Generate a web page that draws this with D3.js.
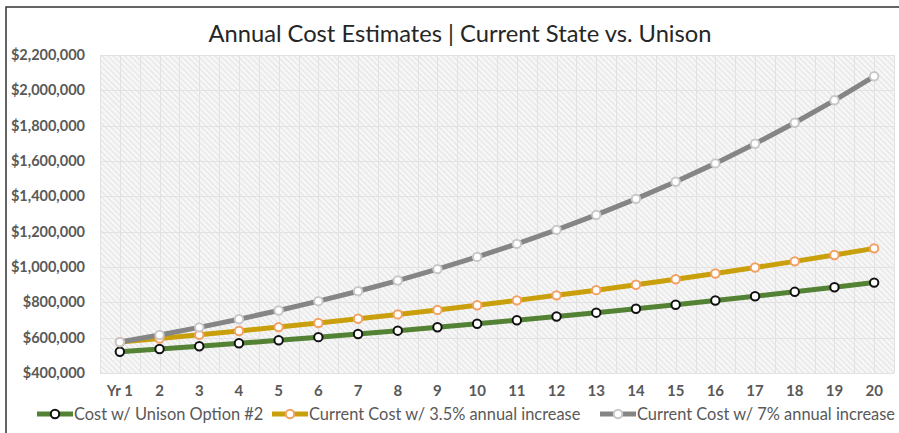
<!DOCTYPE html>
<html>
<head>
<meta charset="utf-8">
<script src="https://cdn.jsdelivr.net/npm/d3@7"></script>
<style>
  body { margin: 0; background: #fff; }
  svg { display: block; font-family: Lato, "Open Sans", sans-serif; }
</style>
</head>
<body>
<div id="chart"></div>
<script>
// categories and series
var years = ["Yr 1", "2", "3", "4", "5", "6", "7", "8", "9", "10",
  "11", "12", "13", "14", "15", "16", "17", "18", "19", "20"];
var unisonCost = [520000, 535600, 551700, 568200, 585300, 602800, 620900, 639500, 658700, 678500,
  698800, 719800, 741400, 763600, 786500, 810100, 834400, 859500, 885300, 911800];
var cost35 = [575000, 595100, 616000, 637500, 659800, 682900, 706800, 731600, 757200, 783700,
  811100, 839500, 868900, 899300, 930800, 963400, 997100, 1032000, 1068100, 1105500];
var cost7 = [575000, 615300, 658300, 704400, 753700, 806500, 862900, 923300, 988000, 1057100,
  1131100, 1210300, 1295000, 1385700, 1482700, 1586500, 1697500, 1816300, 1943500, 2079500];
var yTicks = [400000, 600000, 800000, 1000000, 1200000, 1400000, 1600000, 1800000, 2000000, 2200000];
var seriesNames = ["Cost w/ Unison Option #2", "Current Cost w/ 3.5% annual increase", "Current Cost w/ 7% annual increase"];

var width = 899, height = 433;
var margin = { left: 100, right: 5, top: 55, bottom: 60 };

var series = [
  { name: seriesNames[0], values: unisonCost, line: "#548235", mStroke: "#111", legendX: 37 },
  { name: seriesNames[1], values: cost35, line: "#c9a00c", mStroke: "#f4a062", legendX: 272 },
  { name: seriesNames[2], values: cost7, line: "#858585", mStroke: "#c8c8c8", legendX: 600 }
];

var svg = d3.select("#chart").append("svg")
  .attr("width", width)
  .attr("height", height);

var defs = svg.append("defs");
var pat = defs.append("pattern")
  .attr("id", "hatch")
  .attr("width", 4).attr("height", 4)
  .attr("patternUnits", "userSpaceOnUse")
  .attr("patternTransform", "rotate(-45)");
pat.append("rect").attr("width", 4).attr("height", 4).attr("fill", "#f6f6f6");
pat.append("line")
  .attr("x1", 0).attr("y1", 0).attr("x2", 0).attr("y2", 4)
  .attr("stroke", "#d6d6d6").attr("stroke-width", 1.2);

// frame of the chart object
svg.append("rect")
  .attr("x", 6).attr("y", 7)
  .attr("width", 910).attr("height", 440)
  .attr("fill", "none")
  .attr("stroke", "#333")
  .attr("stroke-width", 1.5);

var x = d3.scaleBand()
  .domain(years)
  .range([margin.left, width - margin.right]);

var y = d3.scaleLinear()
  .domain([400000, 2200000])
  .range([373, margin.top]);

// plot background
svg.append("rect")
  .attr("x", x.range()[0]).attr("y", y(2200000))
  .attr("width", x.range()[1] - x.range()[0])
  .attr("height", y(400000) - y(2200000))
  .attr("fill", "url(#hatch)");

// gridlines: horizontal at ticks, vertical at band edges and centres
var grid = svg.append("g").attr("stroke", "#e2e2e2").attr("stroke-width", 1);
grid.selectAll(".hg").data(yTicks).enter().append("line")
  .attr("x1", x.range()[0]).attr("x2", x.range()[1])
  .attr("y1", function(d) { return Math.round(y(d)) + 0.5; })
  .attr("y2", function(d) { return Math.round(y(d)) + 0.5; });
var vpos = [];
years.forEach(function(d) {
  vpos.push(x(d));
  vpos.push(x(d) + x.bandwidth() / 2);
});
vpos.push(x.range()[1]);
grid.selectAll(".vg").data(vpos).enter().append("line")
  .attr("x1", function(d) { return Math.round(d) + 0.5; })
  .attr("x2", function(d) { return Math.round(d) + 0.5; })
  .attr("y1", y(2200000)).attr("y2", y(400000));

// axes
var yAxis = svg.append("g")
  .attr("transform", "translate(" + (margin.left - 12) + ",0)")
  .call(d3.axisLeft(y).tickValues(yTicks).tickFormat(d3.format("$,")).tickSize(0));
yAxis.select(".domain").remove();
yAxis.selectAll("text")
  .attr("fill", "#595959")
  .style("font-size", "14.5px")
  .style("font-weight", "bold")
  .style("font-family", "Lato, sans-serif");

var xAxis = svg.append("g")
  .attr("transform", "translate(0," + (y(400000) + 9) + ")")
  .call(d3.axisBottom(x).tickSize(0));
xAxis.select(".domain").remove();
xAxis.selectAll("text")
  .attr("fill", "#595959")
  .style("font-size", "15px")
  .style("font-weight", "bold")
  .style("font-family", "Lato, sans-serif");

// lines and markers
var line = d3.line()
  .x(function(d, i) { return x(years[i]) + x.bandwidth() / 2; })
  .y(function(d) { return y(d); });

series.forEach(function(s) {
  svg.append("path")
    .datum(s.values)
    .attr("d", line)
    .attr("fill", "none")
    .attr("stroke", s.line)
    .attr("stroke-width", 5)
    .attr("stroke-linejoin", "round");
});
series.forEach(function(s) {
  svg.append("g").selectAll("circle")
    .data(s.values)
    .enter().append("circle")
    .attr("cx", function(d, i) { return x(years[i]) + x.bandwidth() / 2; })
    .attr("cy", function(d) { return y(d); })
    .attr("r", 4.2)
    .attr("fill", "#fff")
    .attr("stroke", s.mStroke)
    .attr("stroke-width", 2);
});

// title
svg.append("text")
  .attr("x", 460).attr("y", 42)
  .attr("text-anchor", "middle")
  .attr("fill", "#262626")
  .style("font-size", "23.7px")
  .text("Annual Cost Estimates | Current State vs. Unison");

// legend
var lg = svg.append("g").attr("transform", "translate(0,414)");
series.forEach(function(s) {
  var g = lg.append("g").attr("transform", "translate(" + s.legendX + ",0)");
  g.append("line")
    .attr("x1", 0).attr("x2", 36)
    .attr("stroke", s.line).attr("stroke-width", 5);
  g.append("circle")
    .attr("cx", 18).attr("r", 4.2)
    .attr("fill", "#fff").attr("stroke", s.mStroke).attr("stroke-width", 2);
  g.append("text")
    .attr("x", 37).attr("dy", "0.35em")
    .attr("fill", "#595959")
    .style("font-size", "16.4px")
    .text(s.name);
});
</script>
</body>
</html>
